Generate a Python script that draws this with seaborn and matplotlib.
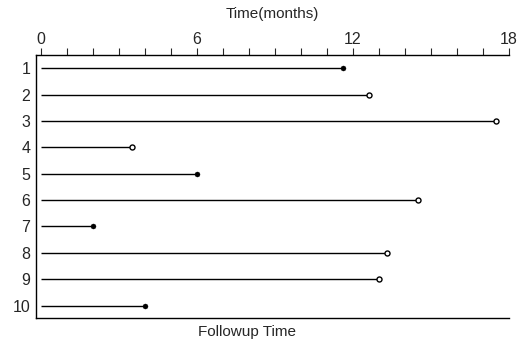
import numpy as np
import pandas as pd
import seaborn as sns
import matplotlib.pyplot as plt
from matplotlib.ticker import MultipleLocator

# Follow-up data
subjects = [1, 2, 3, 4, 5, 6, 7, 8, 9, 10]
times = [11.6, 12.6, 17.5, 3.5, 6.0, 14.5, 2.0, 13.3, 13.0, 4.0]
event = [1, 0, 0, 0, 1, 0, 1, 0, 0, 1]

df = pd.DataFrame({'subject': subjects, 'time': times, 'event': event})

sns.set_style("ticks")
plt.rcParams['font.family'] = ['Liberation Sans', 'DejaVu Sans']

fig = plt.figure(figsize=(5.29, 3.43), dpi=100)
ax = fig.add_axes([36/529, 1 - 318/343, (509 - 36)/529, (318 - 55)/343])

# Follow-up segments
ax.hlines(df['subject'], 0, df['time'], color='black', linewidth=1)

# Markers: filled = event, open = censored
ev = df[df['event'] == 1]
cens = df[df['event'] == 0]
sns.scatterplot(data=ev, x='time', y='subject', ax=ax, color='black',
                edgecolor='black', s=13, zorder=3)
sns.scatterplot(data=cens, x='time', y='subject', ax=ax, color='white',
                edgecolor='black', linewidth=1, s=13, zorder=3)

ax.set_xlim(-0.19, 18)
ax.set_ylim(10.47, 0.5)
ax.xaxis.tick_top()
ax.xaxis.set_label_position('top')
ax.xaxis.set_major_locator(MultipleLocator(6))
ax.xaxis.set_minor_locator(MultipleLocator(1))
ax.tick_params(axis='x', which='both', length=5, width=0.8, labelsize=11.5, pad=1)
ax.set_yticks(subjects)
ax.set_yticklabels([str(s) for s in subjects])
ax.tick_params(axis='y', length=0, labelsize=11.5, pad=4)
ax.set_xlabel('Time(months)', fontsize=11, labelpad=10)
ax.set_ylabel('')
ax.spines['right'].set_visible(False)
for s in ['top', 'left', 'bottom']:
    ax.spines[s].set_linewidth(1)
    ax.spines[s].set_color('black')

fig.text(247/529, 1 - 332/343, 'Followup Time', ha='center', va='center', fontsize=11)

fig.savefig('out.png', dpi=100)
plt.close(fig)
